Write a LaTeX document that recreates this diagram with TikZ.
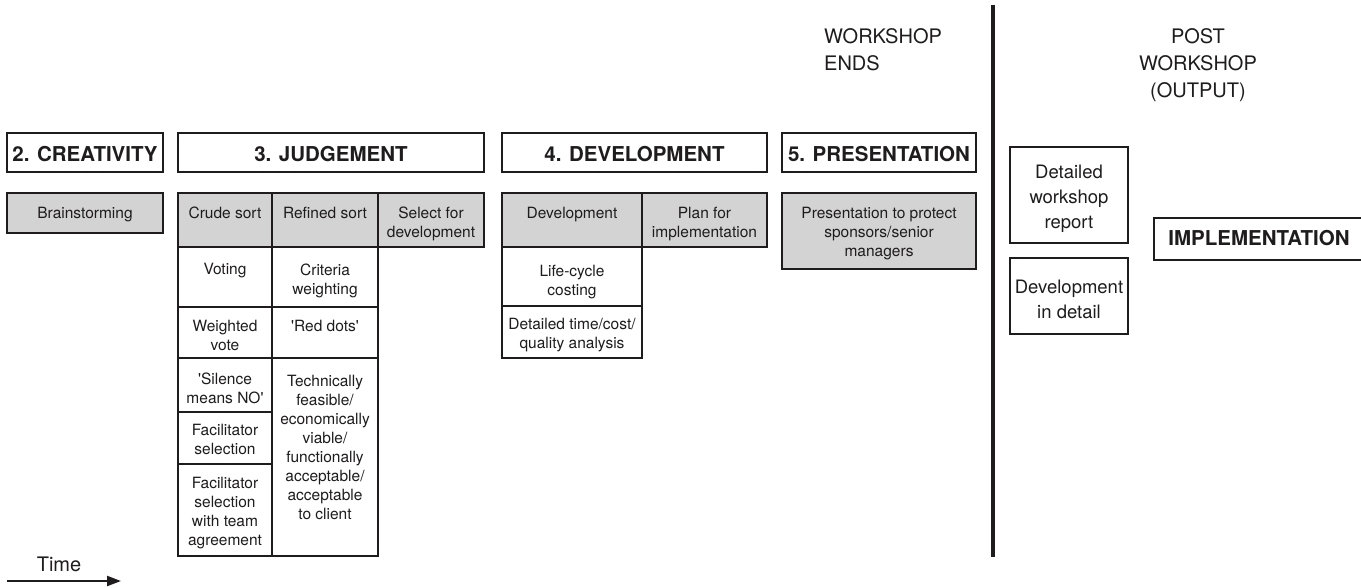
\documentclass[tikz,border=0pt]{standalone}
\usepackage{fontspec}
\setmainfont{TeX Gyre Heros}
\usetikzlibrary{fit,arrows.meta}
\definecolor{cellgray}{RGB}{211,211,211}
\definecolor{ink}{RGB}{30,28,28}
\tikzset{
 box/.style={draw=ink, line width=1.5pt, inner sep=0pt},
 graybox/.style={box, fill=cellgray},
 celltext/.style={inner sep=0pt, align=center, font=\fontsize{15.5}{19}\selectfont, text=ink},
 headtext/.style={inner sep=0pt, align=center, font=\fontsize{20.5}{24}\selectfont\bfseries, text=ink},
 posttext/.style={inner sep=0pt, align=center, font=\fontsize{18.5}{25}\selectfont, text=ink},
 bigtext/.style={inner sep=0pt, font=\fontsize{20}{27}\selectfont, text=ink},
}
% name, x1, y1, x2, y2, box style, text style, text top, text
\newcommand\mkcell[9]{%
 \node[#6, fit={(#2,#3) (#4,#5)}] (#1) {};
 \node[#7, anchor=north] (#1t) at ({(#2+#4)/2},#8) {#9};
}
\newcommand\sq{\textquotesingle}
\begin{document}
\begin{tikzpicture}[x=1pt,y=-1pt]
\useasboundingbox (0,0) rectangle (1361,588);
\fill[white] (0,0) rectangle (1361,588);

% phase headings
\mkcell{h2}{7}{133}{163}{172}{box}{headtext}{146}{2. CREATIVITY}
\mkcell{h3}{178}{133}{484}{172}{box}{headtext}{146}{3. JUDGEMENT}
\mkcell{h4}{502}{133}{767}{172}{box}{headtext}{146}{4. DEVELOPMENT}
\mkcell{h5}{782}{133}{976}{172}{box}{headtext}{146}{5. PRESENTATION}

% creativity
\mkcell{brain}{7}{193}{163}{233}{graybox}{celltext}{207}{Brainstorming}

% judgement
\mkcell{crude}{178}{193}{272}{247}{graybox}{celltext}{207}{Crude sort}
\mkcell{refined}{272}{193}{378}{247}{graybox}{celltext}{207}{Refined sort}
\mkcell{select}{378}{193}{484}{247}{graybox}{celltext}{207}{Select for\\development}
\mkcell{voting}{178}{247}{272}{307}{box}{celltext}{263}{Voting}
\mkcell{wvote}{178}{307}{272}{358}{box}{celltext}{320}{Weighted\\vote}
\mkcell{silence}{178}{358}{272}{412}{box}{celltext}{373}{\sq Silence\\means NO\sq}
\mkcell{facil}{178}{412}{272}{464}{box}{celltext}{424}{Facilitator\\selection}
\mkcell{facilteam}{178}{464}{272}{556}{box}{celltext}{477}{Facilitator\\selection\\with team\\agreement}
\mkcell{criteria}{272}{247}{378}{307}{box}{celltext}{264}{Criteria\\weighting}
\mkcell{reddots}{272}{307}{378}{358}{box}{celltext}{320}{\sq Red dots\sq}
\mkcell{tech}{272}{358}{378}{556}{box}{celltext}{375}{Technically\\feasible/\\economically\\viable/\\functionally\\acceptable/\\acceptable\\to client}

% development
\mkcell{devh}{502}{193}{642}{247}{graybox}{celltext}{207}{Development}
\mkcell{plan}{642}{193}{767}{247}{graybox}{celltext}{207}{Plan for\\implementation}
\mkcell{life}{502}{247}{642}{306}{box}{celltext}{265}{Life-cycle\\costing}
\mkcell{dtime}{502}{306}{642}{358}{box}{celltext}{318}{Detailed time/cost/\\quality analysis}

% presentation
\mkcell{pres}{782}{193}{976}{269}{graybox}{celltext}{207}{Presentation to protect\\sponsors/senior\\managers}

% post workshop
\mkcell{report}{1010}{147}{1128}{243}{box}{posttext}{165}{Detailed\\workshop\\report}
\mkcell{devdet}{1010}{258}{1128}{334}{box}{posttext}{280}{Development\\in detail}
\mkcell{impl}{1154}{218}{1364}{260}{box}{headtext}{230}{IMPLEMENTATION}

\node[bigtext, anchor=north west, align=left] (wends) at (824,28) {WORKSHOP\\ENDS};
\node[bigtext, anchor=north, align=center] (post) at (1198,28) {POST\\WORKSHOP\\(OUTPUT)};

% divider
\coordinate (vtop) at (993,5);
\coordinate (vbot) at (993,557);
\draw[ink, line width=3.2pt] (vtop) -- (vbot);

% time arrow
\node[bigtext, anchor=north] (time) at (59,557) {Time};
\coordinate (tstart) at (7,581);
\coordinate (tend) at (121,581);
\draw[ink, line width=2.2pt, -{Triangle[length=14pt,width=10pt]}] (tstart) -- (tend);
\end{tikzpicture}
\end{document}
